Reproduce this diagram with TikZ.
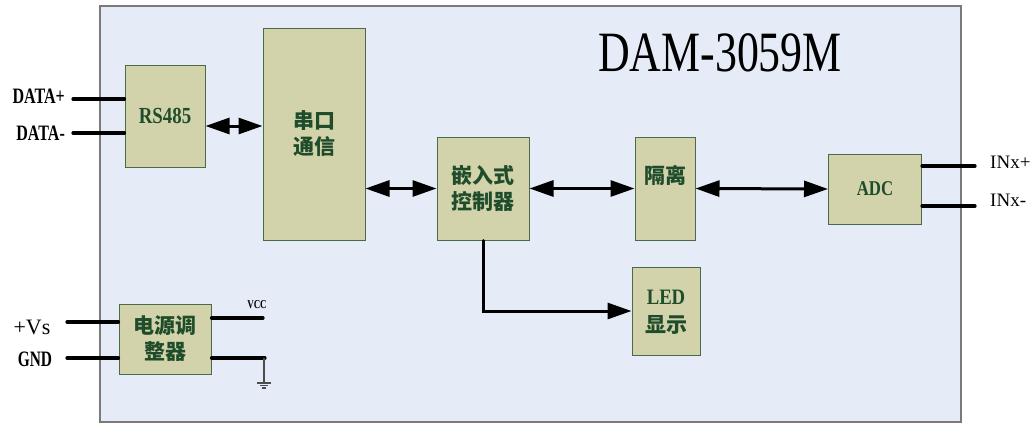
\documentclass[tikz,border=0pt]{standalone}
\usepackage{fontspec}
\setmainfont{Liberation Serif}
\newfontfamily\cjk{Noto Sans CJK SC}
\usetikzlibrary{arrows.meta}
\definecolor{panelfill}{HTML}{E6ECF7}
\definecolor{panelline}{HTML}{7A7A7A}
\definecolor{boxfill}{HTML}{D3D3AB}
\definecolor{boxline}{HTML}{4A6B4A}
\definecolor{boxtext}{HTML}{1F4D2B}
\tikzset{
  blk/.style={draw=boxline, line width=1pt, fill=boxfill, inner sep=0pt, text=boxtext, align=center},
  cjkt/.style={font=\cjk\bfseries\fontsize{21}{26}\selectfont},
  wire/.style={line width=3.2pt, line cap=round},
  dbl/.style={line width=3pt, {Triangle[length=24pt,width=16pt]}-{Triangle[length=24pt,width=16pt]}},
  sgl/.style={line width=3pt, -{Triangle[length=24pt,width=16pt]}},
  lbl/.style={inner sep=0pt, font=\bfseries\fontsize{22}{22}\selectfont},
}
\begin{document}
\begin{tikzpicture}[x=1pt,y=-1pt]
\useasboundingbox (0,0) rectangle (1036,423);
% panel
\path[fill=panelfill] (100,5.5) rectangle (961,422);
\draw[panelline, line width=2pt] (100,423) -- (100,5.5) -- (961,5.5) -- (961,423);
\draw[panelline, line width=2pt] (100,422) -- (961,422);
% title
\node[inner sep=0pt, font=\fontsize{57}{57}\selectfont, xscale=0.77] (title) at (720,53) {DAM-3059M};
% blocks
\node[blk, minimum width=80pt, minimum height=102pt] (rs) at (165,116) {};
\node[text=boxtext, inner sep=0pt, font=\bfseries\fontsize{23}{23}\selectfont, xscale=0.82] (rst) at (rs.center) {RS485};
\node[blk, cjkt, minimum width=102pt, minimum height=212pt] (ck) at (314,134) {串口\\通信};
\node[blk, cjkt, minimum width=92pt, minimum height=103pt] (ctrl) at (483,188.5) {嵌入式\\控制器};
\node[blk, minimum width=60pt, minimum height=103pt] (iso) at (665,188.5) {};
\node[cjkt, text=boxtext, inner sep=0pt] (isot) at (665,175) {隔离};
\node[blk, minimum width=68pt, minimum height=88pt] (led) at (666,311) {};
\node[text=boxtext, inner sep=0pt, font=\bfseries\fontsize{22}{22}\selectfont, xscale=0.85] (ledt) at (666,297) {LED};
\node[cjkt, text=boxtext, inner sep=0pt] (ledc) at (666,325) {显示};
\node[blk, minimum width=93pt, minimum height=70pt] (adc) at (875,189) {};
\node[text=boxtext, inner sep=0pt, font=\bfseries\fontsize{21}{21}\selectfont, xscale=0.8] (adct) at (adc.center) {ADC};
\node[blk, cjkt, minimum width=92pt, minimum height=70pt] (pw) at (165,339) {电源调\\整器};
% connectors
\draw[dbl] ([yshift=-10pt]rs.east) -- ([yshift=-10pt]rs.east -| ck.west);
\draw[dbl] (ctrl.west -| ck.east) -- (ctrl.west);
\draw[dbl] (ctrl.east) -- (iso.west);
\draw[dbl] (iso.east) -- (adc.west);
\draw[sgl, line cap=round] (ctrl.south) |- (led.west);
% left signal wires
\coordinate (dp) at (73,99);
\coordinate (dm) at (73,133);
\coordinate (vs) at (67,322);
\coordinate (gn) at (67,358);
\draw[wire] (dp) -- (dp -| rs.west);
\draw[wire] (dm) -- (dm -| rs.west);
\draw[wire] (vs) -- (vs -| pw.west);
\draw[wire] (gn) -- (gn -| pw.west);
\node[lbl, anchor=east, xscale=0.73] (ldp) at (65,96) {DATA+};
\node[lbl, anchor=east, xscale=0.73] (ldm) at (65,133) {DATA-};
\node[inner sep=0pt, font=\fontsize{22}{22}\selectfont] (lvs) at (32,327) {+Vs};
\node[lbl, xscale=0.7] (lgn) at (35,359) {GND};
% right wires
\coordinate (ip) at (975,166);
\coordinate (im) at (975,206);
\draw[wire] (ip -| adc.east) -- (ip);
\draw[wire] (im -| adc.east) -- (im);
\node[inner sep=0pt, anchor=west, font=\fontsize{19}{19}\selectfont] (lip) at (990,162) {INx+};
\node[inner sep=0pt, anchor=west, font=\fontsize{19}{19}\selectfont] (lim) at (990,200) {INx-};
% power outputs
\coordinate (vcc) at (263,318);
\coordinate (gq) at (265,358);
\coordinate (gb) at (264,383);
\draw[wire] (vcc -| pw.east) -- (vcc);
\draw[wire] (gq -| pw.east) -- (gq);
\node[inner sep=0pt, font=\bfseries\fontsize{12}{12}\selectfont, xscale=0.75] (lvcc) at (257,305) {VCC};
\draw[line width=1.5pt, black!70] (264,358) -- (gb);
\draw[line width=1.5pt, black!70] ([xshift=-7pt]gb) -- ([xshift=7pt]gb);
\draw[line width=1.5pt, black!70] ([xshift=-4pt,yshift=-2.5pt]gb) -- ([xshift=4pt,yshift=-2.5pt]gb);
\draw[line width=1.5pt, black!70] ([xshift=-2pt,yshift=-5pt]gb) -- ([xshift=2pt,yshift=-5pt]gb);
\end{tikzpicture}
\end{document}
